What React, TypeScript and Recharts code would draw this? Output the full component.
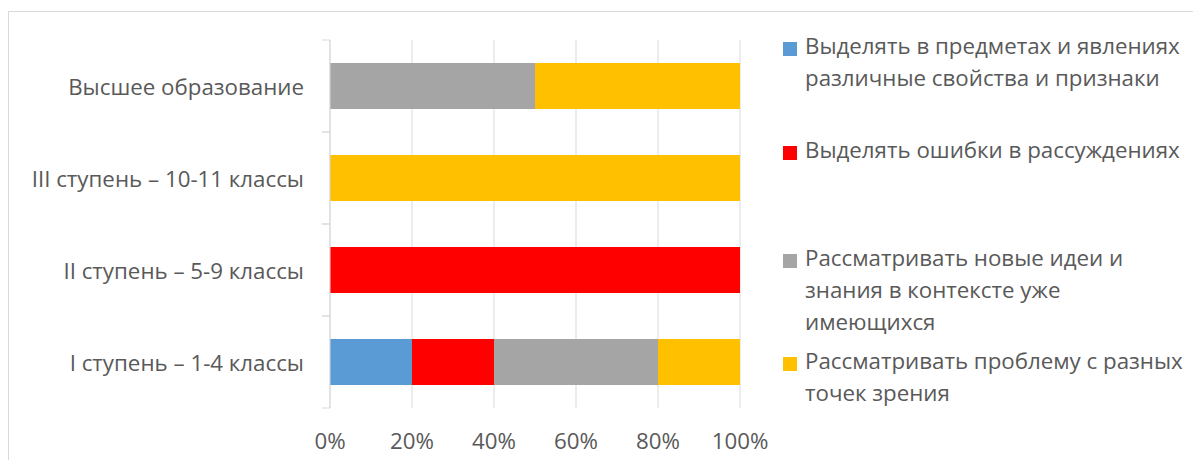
import React from "react";
import { BarChart, Bar, XAxis, YAxis, CartesianGrid, Legend } from "recharts";

const categories = [
  "Высшее образование",
  "III ступень – 10-11 классы",
  "II ступень – 5-9 классы",
  "I ступень – 1-4 классы",
];
const seriesNames = [
  "Выделять в предметах и явлениях различные свойства и признаки",
  "Выделять ошибки в рассуждениях",
  "Рассматривать новые идеи и знания в контексте уже имеющихся",
  "Рассматривать проблему с разных точек зрения",
];
const legendLines = [
  ["Выделять в предметах и явлениях", "различные свойства и признаки"],
  ["Выделять ошибки в рассуждениях"],
  ["Рассматривать новые идеи и", "знания в контексте уже", "имеющихся"],
  ["Рассматривать проблему с разных", "точек зрения"],
];
const propertiesValues = [0, 0, 0, 20];
const errorsValues = [0, 0, 100, 20];
const newIdeasValues = [50, 0, 0, 40];
const viewpointsValues = [50, 100, 0, 20];
const xTicks = [0, 20, 40, 60, 80, 100];

const colors = ["#5B9BD5", "#FF0000", "#A5A5A5", "#FFC000"];
const keys = ["s0", "s1", "s2", "s3"];

const data = categories.map((c, i) => ({
  name: c,
  s0: propertiesValues[i],
  s1: errorsValues[i],
  s2: newIdeasValues[i],
  s3: viewpointsValues[i],
}));

const FONT = "'Open Sans', sans-serif";
const TEXT = "#595959";
const GRID = "#d9d9d9";
const FS = 22.3;

const CategoryTick = (props: any) => {
  const { x, y, payload, height, visibleTicksCount } = props;
  const h = typeof height === "number" && height > 0 ? height : 368;
  const half = h / (visibleTicksCount || categories.length) / 2;
  return (
    <g>
      <line x1={x + 18} x2={x + 26} y1={y - half} y2={y - half} stroke={GRID} />
      <line x1={x + 18} x2={x + 26} y1={y + half} y2={y + half} stroke={GRID} />
      <text x={x} y={y} textAnchor="end" dominantBaseline="central" fill={TEXT} fontSize={FS} fontFamily={FONT}>
        {payload.value}
      </text>
    </g>
  );
};

const legendTops = [22, 126, 234, 337];

const LegendContent = () => (
  <div style={{ position: "relative", width: 410, height: 420, fontFamily: FONT, fontSize: FS, color: TEXT }}>
    {seriesNames.map((n, i) => (
      <div key={n} style={{ position: "absolute", left: 0, top: legendTops[i], display: "flex" }}>
        <div style={{ width: 14, height: 14, background: colors[i], marginTop: 12, marginRight: 8, flex: "none" }} />
        <div style={{ lineHeight: "32px", whiteSpace: "nowrap" }}>
          {legendLines[i].map((l) => (
            <div key={l}>{l}</div>
          ))}
        </div>
      </div>
    ))}
  </div>
);

export default function App() {
  return (
    <div style={{ position: "relative", width: 1193, height: 452, overflow: "hidden", background: "#fff" }}>
      <div
        style={{
          position: "absolute",
          left: 0,
          top: 3,
          width: 1300,
          height: 600,
          borderTop: `1px solid ${GRID}`,
          borderLeft: `1px solid ${GRID}`,
        }}
      />
      <div style={{ position: "absolute", left: 0, top: 0 }}>
        <BarChart
          width={1193}
          height={452}
          data={data}
          layout="vertical"
          margin={{ top: 32, right: 461, bottom: 0, left: 0 }}
          barSize={46}
        >
          <CartesianGrid horizontal={false} vertical={true} stroke={GRID} />
          <XAxis
            type="number"
            domain={[0, 100]}
            ticks={xTicks}
            tickFormatter={(v: number) => `${v}%`}
            axisLine={false}
            tickLine={false}
            tickSize={0}
            tickMargin={25}
            height={52}
            tick={{ fill: TEXT, fontSize: FS, fontFamily: FONT }}
          />
          <YAxis
            type="category"
            dataKey="name"
            width={322}
            axisLine={{ stroke: GRID }}
            tickLine={false}
            tickSize={8}
            tickMargin={18}
            tick={<CategoryTick />}
            interval={0}
          />
          <Legend
            layout="horizontal"
            align="center"
            verticalAlign="middle"
            content={<LegendContent />}
            wrapperStyle={{ position: "absolute", left: 775, top: 0, width: 410, height: 420 }}
          />
          {keys.map((k, i) => (
            <Bar key={k} dataKey={k} stackId="a" fill={colors[i]} name={seriesNames[i]} isAnimationActive={false} />
          ))}
        </BarChart>
      </div>
    </div>
  );
}
